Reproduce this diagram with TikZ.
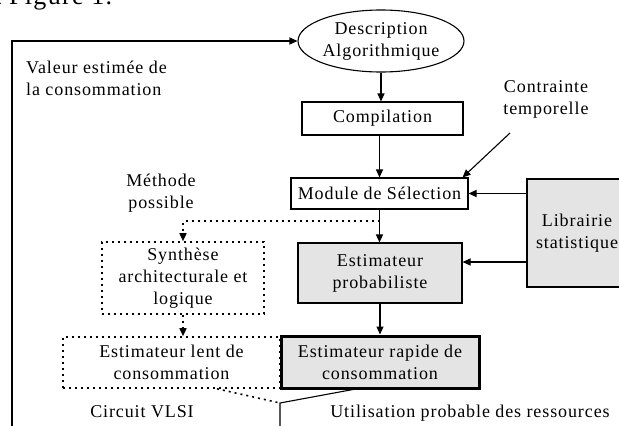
\documentclass[tikz,border=0pt]{standalone}
\usepackage{fontspec}
\setmainfont[LetterSpace=5]{Liberation Serif}
\usetikzlibrary{arrows.meta,shapes.geometric,calc}
\definecolor{boxgray}{HTML}{E4E4E4}
\begin{document}
\begin{tikzpicture}[x=1pt,y=-1pt,
  every node/.style={font=\fontsize{18}{22}\selectfont, inner sep=0pt, align=center},
  plain/.style={draw, line width=1.1pt},
  grayb/.style={draw, line width=1.1pt, fill=boxgray},
  dotb/.style={draw, line width=1.6pt, dash pattern=on 2pt off 4pt},
  arr/.style={line width=1.1pt, -{Triangle[length=8pt,width=7pt]}},
  darr/.style={line width=1.6pt, dash pattern=on 2pt off 4pt, -{Triangle[length=8pt,width=7pt]}},
  ln/.style={line width=1.1pt},
  dln/.style={line width=1.6pt, dash pattern=on 2pt off 4pt}]
\useasboundingbox (0,0) rectangle (619,426);
\clip (0,0) rectangle (619,426);

% cut-off text at the top
\node[anchor=base west, font=\fontsize{26}{30}\selectfont] (top) at (-6,4) {t Figure 1.};

% nodes
\node[plain, ellipse, minimum width=166pt, minimum height=62pt] (desc) at (381,41) {Description\\Algorithmique};
\node[plain, rectangle, minimum width=161pt, minimum height=33pt] (comp) at (382.5,118.5) {Compilation};
\node[plain, rectangle, minimum width=177pt, minimum height=31pt] (mod) at (379.5,193.5) {Module de Sélection};
\node[grayb, rectangle, minimum width=100pt, minimum height=108pt] (lib) at (577,233) {Librairie\\statistique};
\node[grayb, rectangle, minimum width=164pt, minimum height=60pt] (prob) at (380,273) {Estimateur\\probabiliste};
\node[draw, line width=3pt, fill=boxgray, rectangle, minimum width=198pt, minimum height=52pt] (rap) at (380,362) {Estimateur rapide de\\consommation};
\node[dotb, rectangle, minimum width=162pt, minimum height=72pt] (syn) at (183,278) {Synthèse\\architecturale et\\logique};
\node[dotb, rectangle, minimum width=217pt, minimum height=51pt] (lent) at (171.5,362.5) {Estimateur lent de\\consommation};

% labels
\node[anchor=west, align=left] (val) at (26,78) {Valeur estimée de\\la consommation};
\node (meth) at (161,193) {Méthode\\possible};
\node (ctr) at (546,99) {Contrainte\\temporelle};
\node (vlsi) at (142,412) {Circuit VLSI};
\node (util) at (470,413) {Utilisation probable des ressources};

% coordinates
\coordinate (loop) at (12,440);
\coordinate (split) at (379.5,221);
\coordinate (ctrtail) at (510,133);
\coordinate (join) at (280,403);
\coordinate (down) at (280,440);

% connectors
\draw[arr] (loop) |- (desc.west);
\draw[arr] (desc.south) -- (desc.south |- comp.north);
\draw[arr] (comp.south -| mod.north) -- (mod.north);
\draw[arr] (ctrtail) -- ([xshift=-6pt]mod.north east);
\draw[arr] (lib.west |- mod.east) -- (mod.east);
\draw[arr] (lib.west |- 0,262) -- (prob.east |- 0,262);
\draw[arr] (mod.south) -- (mod.south |- prob.north);
\draw[darr] (split) -| (syn.north);
\draw[darr] (syn.south) -- (syn.south |- lent.north);
\draw[arr] (prob.south) -- (prob.south |- rap.north);
\draw[ln] ([xshift=-27pt]rap.south) -- (join) -- (down);
\draw[dln] ([xshift=45.5pt]lent.south) -- (join);
\end{tikzpicture}
\end{document}
